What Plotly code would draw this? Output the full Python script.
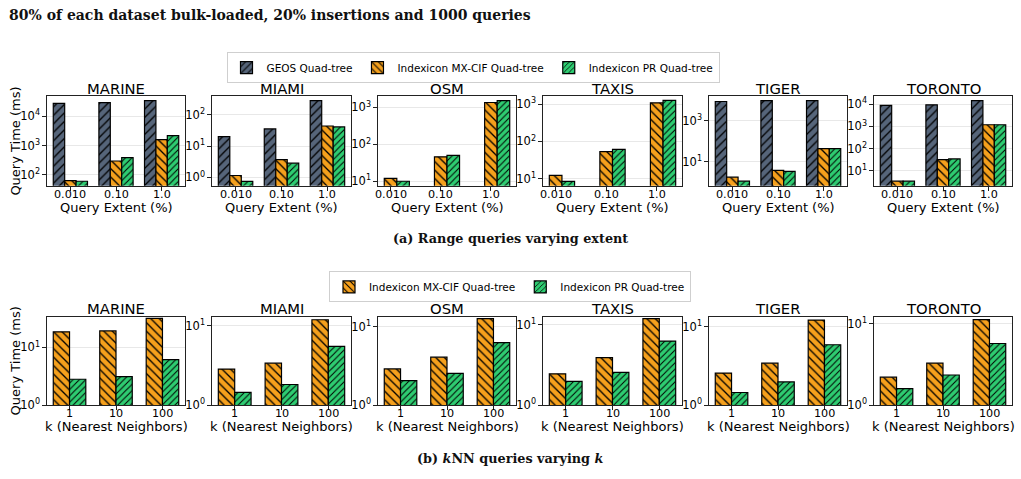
import math
import plotly.graph_objects as go

W, H = 1021, 479

datasets = ["MARINE", "MIAMI", "OSM", "TAXIS", "TIGER", "TORONTO"]
extent_labels = ["0.010", "0.10", "1.0"]
k_labels = ["1", "10", "100"]

geos_range = [[27500, 29500, 34500], [20, 35.5, 284], [None, None, None],
              [None, None, None], [8900, 9800, 9800], [8800, 9300, 14500]]
mxcif_range = [[63, 295, 1590], [1.15, 3.7, 44], [12, 46, 1360],
               [12.3, 53, 1090], [1.8, 3.85, 45], [3.4, 32, 1180]]
pr_range = [[60, 385, 2170], [0.75, 2.86, 41], [10, 50, 1540],
            [8.5, 61, 1270], [1.14, 3.45, 45], [3.4, 34, 1180]]

mxcif_knn = [[18.5, 19.2, 31.5], [2.85, 3.38, 11.9], [2.9, 4.1, 12.7],
             [2.45, 3.9, 11.9], [2.57, 3.43, 12.2], [2.2, 3.27, 11.2]]
pr_knn = [[2.8, 3.1, 6.1], [1.45, 1.82, 5.5], [2.06, 2.54, 6.3],
          [1.97, 2.56, 6.25], [1.45, 1.98, 5.9], [1.59, 2.34, 5.7]]

# axis settings (log10 ranges and tick values)
range_yranges = [[1.62, 4.68], [-0.27, 2.59], [0.875, 3.30], [0.807, 3.21], [-0.17, 4.20], [0.32, 4.35]]
range_yticks = [[100, 1000, 10000], [1, 10, 100], [10, 100, 1000], [10, 100, 1000], [10, 1000],
                [10, 100, 1000, 10000]]
knn_yranges = [[0, 1.53], [0, 1.115], [0, 1.13], [0, 1.10], [0, 1.13], [0, 1.085]]
knn_yticks = [[1, 10]] * 6

series_names = ["GEOS Quad-tree", "Indexicon MX-CIF Quad-tree", "Indexicon PR Quad-tree"]
fills = ["#56657a", "#f5a01c", "#2ecc71"]
hatches = ["/", "\\", "/"]
hatch_sizes = [6, 6, 4.5]

# layout geometry (pixels)
col_x = [(47, 185), (212, 351), (378, 516), (543, 682), (709, 847), (874, 1012)]
row_y = [(97, 188), (321, 411)]

FONT = "DejaVu Sans"
SERIF = "DejaVu Serif"


def sup(v):
    e = int(round(math.log10(v)))
    return "10<sup>%d</sup>" % e


fig = go.Figure()
layout = dict(
    width=W, height=H, margin=dict(l=0, r=0, t=0, b=0),
    paper_bgcolor="white", plot_bgcolor="white",
    barmode="overlay", font=dict(family=FONT, color="black", size=11),
    annotations=[],
)


def axis_name(i, kind):
    return kind + ("axis" if i == 1 else "axis%d" % i)


def ref(i, kind):
    return kind if i == 1 else "%s%d" % (kind, i)


idx = 0
for r in range(2):
    for c in range(6):
        idx += 1
        x0, x1 = col_x[c]
        y0, y1 = row_y[r]
        if r == 0:
            if geos_range[c][0] is None:
                xr = [-0.25, 2.5]
            else:
                xr = [-0.5125, 2.5125]
            yr = range_yranges[c]
            yt = range_yticks[c]
            tt = extent_labels
            series = [(0, geos_range[c], -0.375, 0.25), (1, mxcif_range[c], -0.125, 0.25),
                      (2, pr_range[c], 0.125, 0.25)]
            leg = "legend"
        else:
            xr = [-0.485, 2.485]
            yr = knn_yranges[c]
            yt = knn_yticks[c]
            tt = k_labels
            series = [(1, mxcif_knn[c], -0.35, 0.35), (2, pr_knn[c], 0.0, 0.35)]
            leg = "legend2"
        for s, vals, off, wd in series:
            fig.add_trace(go.Bar(
                x=[0, 1, 2], y=vals, name=series_names[s],
                offset=off, width=wd,
                marker=dict(color=fills[s], line=dict(color="black", width=1.2),
                            pattern=dict(shape=hatches[s], fgcolor="black", bgcolor=fills[s],
                                         size=hatch_sizes[s], solidity=0.22, fillmode="replace")),
                xaxis=ref(idx, "x"), yaxis=ref(idx, "y"),
                legend=leg, showlegend=(c == 0), legendgroup=series_names[s] + leg,
                hoverinfo="skip",
            ))
        layout[axis_name(idx, "x")] = dict(
            domain=[x0 / W, x1 / W], range=xr, anchor=ref(idx, "y"),
            tickmode="array", tickvals=[0, 1, 2], showticklabels=False,
            showline=True, linecolor="#222", linewidth=1.3, mirror=True,
            ticks="outside", ticklen=3.5, tickcolor="#222", showgrid=False, zeroline=False,
            fixedrange=True,
        )
        layout[axis_name(idx, "y")] = dict(
            domain=[1 - y1 / H, 1 - y0 / H], type="log", range=yr, anchor=ref(idx, "x"),
            tickmode="array", tickvals=yt, ticktext=[sup(v) for v in yt],
            showline=True, linecolor="#222", linewidth=1.3, mirror=True,
            ticks="outside", ticklen=3.5, tickcolor="#222",
            showgrid=True, gridcolor="#e8e8e8", gridwidth=1, zeroline=False,
            tickfont=dict(size=11.5, family=FONT), fixedrange=True,
        )
        # x tick labels (placed through the axis scale)
        for j, lab in enumerate(tt):
            layout["annotations"].append(dict(
                text=lab, x=j, xref=ref(idx, "x"), y=1 - (y1 + 8.5) / H, yref="paper",
                showarrow=False, xanchor="center", yanchor="middle",
                font=dict(size=11.2, family=FONT)))
        # subplot title
        layout["annotations"].append(dict(
            text=datasets[c], x=(x0 + x1) / 2 / W, y=1 - (y0 - 8.5) / H,
            xref="paper", yref="paper", showarrow=False, xanchor="center", yanchor="middle",
            font=dict(size=14.8, family=FONT)))
        # x axis title
        layout["annotations"].append(dict(
            text="Query Extent (%)" if r == 0 else "k (Nearest Neighbors)",
            x=(x0 + x1) / 2 / W, y=1 - (y1 + 21.5) / H,
            xref="paper", yref="paper", showarrow=False, xanchor="center", yanchor="middle",
            font=dict(size=13, family=FONT)))

# y-axis titles
for yc in (142.5, 366):
    layout["annotations"].append(dict(
        text="Query Time (ms)", x=15.5 / W, y=1 - yc / H, xref="paper", yref="paper",
        showarrow=False, textangle=-90, xanchor="center", yanchor="middle",
        font=dict(size=13, family=FONT)))

# captions and header text
layout["annotations"].append(dict(
    text="<b>80% of each dataset bulk-loaded, 20% insertions and 1000 queries</b>",
    x=7 / W, y=1 - 14 / H, xref="paper", yref="paper", showarrow=False,
    xanchor="left", yanchor="middle", font=dict(size=14, family=SERIF, color="#111")))
layout["annotations"].append(dict(
    text="<b>(a) Range queries varying extent</b>",
    x=510 / W, y=1 - 242 / H, xref="paper", yref="paper", showarrow=False,
    xanchor="center", yanchor="middle", font=dict(size=12.8, family=SERIF, color="#111")))
layout["annotations"].append(dict(
    text="<b>(b) <i>k</i>NN queries varying <i>k</i></b>",
    x=510 / W, y=1 - 465 / H, xref="paper", yref="paper", showarrow=False,
    xanchor="center", yanchor="middle", font=dict(size=12.8, family=SERIF, color="#111")))

leg_common = dict(orientation="h", xanchor="center", yanchor="top", bgcolor="white",
                  bordercolor="#cfcfcf", borderwidth=1, font=dict(size=10.5, family=FONT),
                  xref="paper", yref="paper", itemclick=False, itemdoubleclick=False)
layout["legend"] = dict(x=473 / W, y=1 - 52 / H, **leg_common)
layout["legend2"] = dict(x=510 / W, y=1 - 275 / H, **leg_common)

fig.update_layout(**layout)
fig.write_html("out.html", config={"displayModeBar": False})
